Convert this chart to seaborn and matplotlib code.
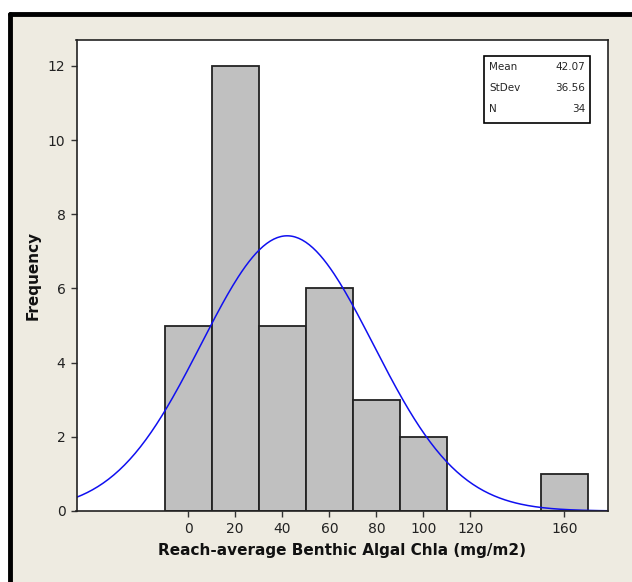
import numpy as np
import pandas as pd
import matplotlib
matplotlib.use("Agg")
import matplotlib.pyplot as plt
import seaborn as sns
from matplotlib.patches import Rectangle

# Data
bin_centers = [0, 20, 40, 60, 80, 100, 120, 140, 160]
counts = [5, 12, 5, 6, 3, 2, 0, 0, 1]
bin_width = 20
mean_val = 42.07
sd_val = 36.56
n_val = 34
x_ticks = [0, 20, 40, 60, 80, 100, 120, 160]
y_ticks = [0, 2, 4, 6, 8, 10, 12]

sns.set_style("white")
plt.rcParams["font.family"] = ["DejaVu Sans"]

bg = "#EEEBE1"
fig = plt.figure(figsize=(6.32, 5.82), dpi=100, facecolor="white")
# cream panel with black top/left frame
fig.add_artist(Rectangle((10 / 632, 0), 1, 1 - 14 / 582, transform=fig.transFigure,
                         facecolor=bg, edgecolor="none", zorder=-10))
fig.add_artist(plt.Line2D([10 / 632, 10 / 632], [0, 1 - 14 / 582], transform=fig.transFigure,
                          color="black", lw=3.5, zorder=-9))
fig.add_artist(plt.Line2D([10 / 632, 1], [1 - 14 / 582, 1 - 14 / 582], transform=fig.transFigure,
                          color="black", lw=3.5, zorder=-9))

ax = fig.add_axes([76.5 / 632, 1 - 511 / 582, (608 - 76.5) / 632, (511 - 40) / 582])
ax.set_facecolor("white")
ax.set_zorder(1)

df = pd.DataFrame({"x": bin_centers, "w": counts})
edges = [c - bin_width / 2 for c in bin_centers] + [bin_centers[-1] + bin_width / 2]
sns.histplot(data=df, x="x", weights="w", bins=edges, ax=ax,
             color="#C0C0C0", edgecolor="#222222", linewidth=1.3, alpha=1)

xlim = (-47.5, 178.5)
xs = np.linspace(xlim[0], xlim[1], 300)
ys = n_val * bin_width / (sd_val * np.sqrt(2 * np.pi)) * np.exp(-0.5 * ((xs - mean_val) / sd_val) ** 2)
sns.lineplot(x=xs, y=ys, ax=ax, color="#1010F0", linewidth=1.1)

ax.set_xlim(*xlim)
ax.set_ylim(0, 12.7)
ax.set_xticks(x_ticks)
ax.set_yticks(y_ticks)
ax.tick_params(axis="both", direction="out", length=4, width=1, color="#333333",
               labelsize=10, labelcolor="#222222", bottom=True, left=True, pad=4)
for s in ax.spines.values():
    s.set_color("#222222")
    s.set_linewidth(1.2)

ax.set_xlabel("Reach-average Benthic Algal Chla (mg/m2)", fontsize=11, fontweight="bold",
              color="#111111", labelpad=5)
ax.set_ylabel("Frequency", fontsize=11, fontweight="bold", color="#111111")
ax.yaxis.set_label_coords(-0.068, 0.5)

# stats box
bx0, by0, bx1, by1 = 484, 56, 590, 123
box = Rectangle((bx0 / 632, 1 - by1 / 582), (bx1 - bx0) / 632, (by1 - by0) / 582,
                transform=fig.transFigure, facecolor="white", edgecolor="black", lw=1.2, zorder=5)
fig.add_artist(box)
rows = [("Mean", f"{mean_val:.2f}"), ("StDev", f"{sd_val:.2f}"), ("N", f"{n_val}")]
for i, (k, v) in enumerate(rows):
    yy = 1 - (67 + i * 21) / 582
    fig.text((bx0 + 5) / 632, yy, k, fontsize=7.5, va="center", ha="left", zorder=6)
    fig.text((bx1 - 5) / 632, yy, v, fontsize=7.5, va="center", ha="right", zorder=6)

fig.savefig("out.png", dpi=100, facecolor=fig.get_facecolor())
